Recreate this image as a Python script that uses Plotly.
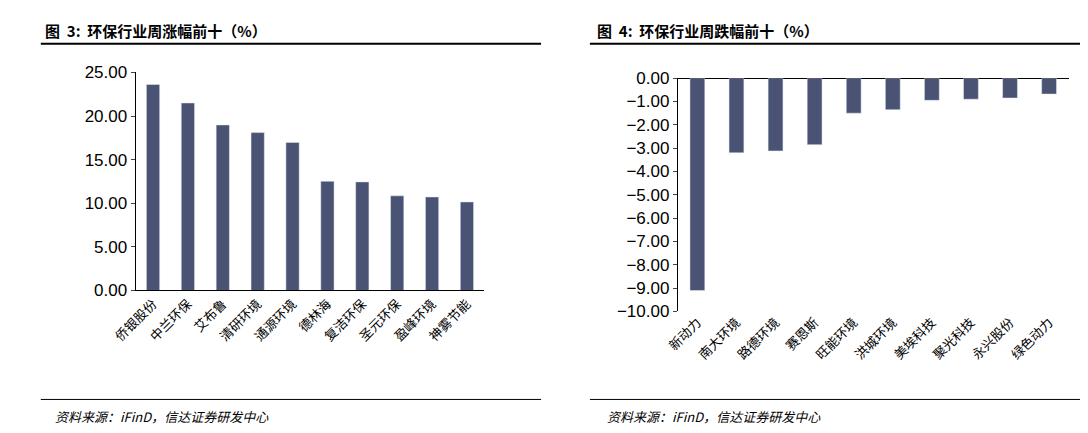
import plotly.graph_objects as go

up_names = ["侨银股份", "中兰环保", "艾布鲁", "清研环境", "通源环境", "德林海", "复洁环保", "圣元环保", "盈峰环境", "神雾节能"]
up_vals = [23.62, 21.5, 18.98, 18.1, 16.98, 12.52, 12.45, 10.85, 10.72, 10.15]

down_names = ["新动力", "南大环境", "路德环境", "赛恩斯", "旺能环境", "洪城环境", "美埃科技", "聚光科技", "永兴股份", "绿色动力"]
down_vals = [-9.1, -3.2, -3.12, -2.85, -1.5, -1.35, -0.95, -0.9, -0.85, -0.68]

bar_color = "#4a5373"
font = "Noto Sans CJK SC"

fig = go.Figure()
fig.add_trace(go.Bar(x=up_names, y=up_vals, marker_color=bar_color, width=0.38, xaxis="x", yaxis="y"))
fig.add_trace(go.Bar(x=down_names, y=down_vals, marker_color=bar_color, width=0.38, xaxis="x2", yaxis="y2"))

W, H = 1088, 433
fig.update_layout(
    width=W, height=H, margin=dict(l=0, r=0, t=0, b=0),
    paper_bgcolor="white", plot_bgcolor="white", showlegend=False,
    font=dict(family=font, color="black", size=13),
    xaxis=dict(domain=[105 / W, 462 / W], anchor="y", tickangle=-45, showline=True,
               linecolor="black", ticks="", tickfont=dict(size=13, color="black")),
    yaxis=dict(domain=[1 - 286 / H, 1 - 58 / H], range=[0, 25], dtick=5, tickformat=".2f",
               anchor="x", showline=True, linecolor="black", ticks="outside", ticklen=4,
               showgrid=False, tickfont=dict(family="Liberation Sans", size=17, color="black")),
    xaxis2=dict(domain=[660 / W, 1060 / W], anchor="y2", tickangle=-45, showline=False,
                ticks="", tickfont=dict(size=13, color="black")),
    yaxis2=dict(domain=[1 - 308 / H, 1 - 64 / H], range=[-10, 0], dtick=1, tickformat=".2f",
                anchor="x2", showline=True, linecolor="black", ticks="outside", ticklen=4,
                showgrid=False, zeroline=True, zerolinecolor="black", zerolinewidth=1,
                tickfont=dict(family="Liberation Sans", size=17, color="black")),
)

for x0, title in [(10, "图  3:  环保行业周涨幅前十（%）"), (575, "图  4:  环保行业周跌幅前十（%）")]:
    fig.add_annotation(text="<b>" + title + "</b>", x=x0 / W, y=1 - 14 / H, xref="paper", yref="paper",
                       xanchor="left", yanchor="middle", showarrow=False, font=dict(size=15))
    fig.add_annotation(text="<i>资料来源：iFinD，信达证券研发中心</i>", x=(x0 + 10) / W, y=1 - 418 / H,
                       xref="paper", yref="paper", xanchor="left", yanchor="middle", showarrow=False,
                       font=dict(size=13))
for x0, x1 in [(8, 520), (570, 1083)]:
    for yy, w in [(28, 2), (400, 1)]:
        fig.add_shape(type="line", xref="paper", yref="paper", x0=x0 / W, x1=x1 / W,
                      y0=1 - yy / H, y1=1 - yy / H, line=dict(color="black", width=w))

fig.write_html("out.html")
